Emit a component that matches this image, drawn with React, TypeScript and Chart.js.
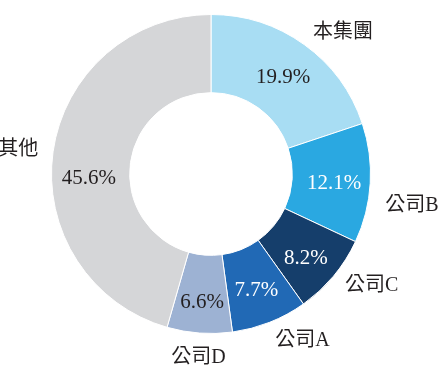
import React, { useEffect, useRef } from "react";
import { Chart, registerables } from "chart.js";

Chart.register(...registerables);

const categories = ["本集團", "公司B", "公司C", "公司A", "公司D", "其他"];
const shares = [19.9, 12.1, 8.2, 7.7, 6.6, 45.6];
const sliceColors = ["#a8ddf3", "#2aa8e1", "#153e6b", "#2169b5", "#9db2d3", "#d5d6d8"];
const valueTextColors = ["#231f20", "#ffffff", "#ffffff", "#ffffff", "#231f20", "#231f20"];
// label layout nudges (px, vertical)
const outerLabelNudgeY = [0, 22, 0, 4, 0, 0];
const innerLabelNudgeY = [4, 2, 5, 2, 5, 22];

const FONT = '"Liberation Serif", "Noto Sans CJK TC", serif';

const labelPlugin = {
  id: "sliceLabels",
  afterDraw(chart: any) {
    const ctx = chart.ctx;
    const meta = chart.getDatasetMeta(0);
    ctx.save();
    meta.data.forEach((arc: any, i: number) => {
      const p = arc.getProps(["x", "y", "startAngle", "endAngle", "innerRadius", "outerRadius"], true);
      const a = (p.startAngle + p.endAngle) / 2;
      const cos = Math.cos(a);
      const sin = Math.sin(a);
      // inner value label
      const rm = (p.innerRadius + p.outerRadius) / 2 + 3;
      ctx.font = `21px ${FONT}`;
      ctx.fillStyle = valueTextColors[i];
      ctx.textAlign = "center";
      ctx.textBaseline = "middle";
      ctx.fillText(`${shares[i].toFixed(1)}%`, p.x + rm * cos, p.y + rm * sin + innerLabelNudgeY[i]);
      // outer category label
      const R = p.outerRadius + 15;
      const lx = p.x + R * cos;
      const ly = p.y + R * sin + outerLabelNudgeY[i];
      ctx.fillStyle = "#231f20";
      ctx.font = `20px ${FONT}`;
      ctx.textAlign = cos > 0.3 ? "left" : cos < -0.3 ? "right" : "center";
      ctx.textBaseline = sin > 0.95 ? "top" : "middle";
      ctx.fillText(categories[i], lx, ly);
    });
    ctx.restore();
  },
};

export default function App() {
  const ref = useRef<HTMLCanvasElement | null>(null);
  useEffect(() => {
    if (!ref.current) return;
    const chart = new Chart(ref.current, {
      type: "doughnut",
      data: {
        labels: categories,
        datasets: [
          {
            data: shares,
            backgroundColor: sliceColors,
            borderColor: "#ffffff",
            borderWidth: 1,
          },
        ],
      },
      options: {
        animation: false,
        responsive: false,
        cutout: "51%",
        layout: { padding: { left: 51, top: 14, right: 77, bottom: 39 } },
        plugins: {
          legend: { display: false },
          tooltip: { enabled: false },
        },
      },
      plugins: [labelPlugin],
    });
    return () => chart.destroy();
  }, []);
  return (
    <div style={{ position: "fixed", left: 0, top: 0, width: 448, height: 373, background: "#ffffff" }}>
      <canvas ref={ref} width={448} height={373} />
    </div>
  );
}
